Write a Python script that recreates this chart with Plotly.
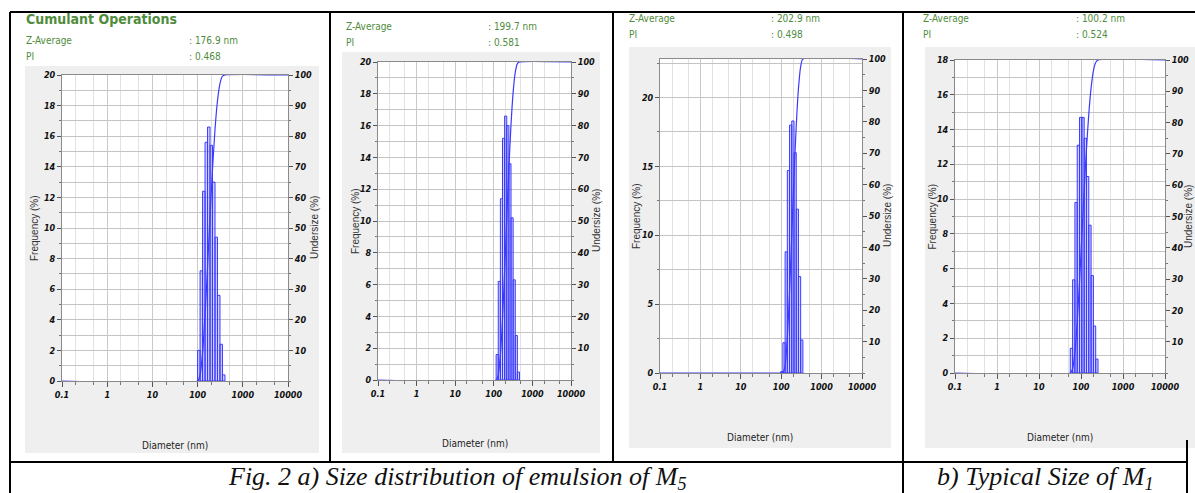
import plotly.graph_objects as go

W, H = 1195, 493

# ---------------- data ----------------
# bin edges (nm) and frequency (%) of each size class
m5a_edges = [100, 113.5, 128.8, 146.2, 165.9, 188.3, 213.7, 242.6, 275.3, 312.5, 354.7, 402.6]
m5a_freq = [2.0, 7.2, 12.4, 15.6, 16.6, 15.4, 13.0, 9.4, 5.6, 2.4, 0.4]

m5b_edges = [115, 130.5, 148.1, 168.1, 190.8, 216.6, 245.8, 279.0, 316.7, 359.4, 407.9, 463.0]
m5b_freq = [1.6, 6.2, 11.4, 15.2, 16.6, 16.0, 13.6, 10.2, 6.3, 2.8, 0.5]

m5c_edges = [97, 110.1, 125.0, 141.8, 161.0, 182.7, 207.4, 235.4, 267.2, 303.2, 344.2]
m5c_freq = [0.1, 2.2, 8.8, 14.7, 18.0, 18.3, 16.0, 11.9, 7.0, 2.4]

m1_edges = [55.6, 63.1, 71.6, 81.3, 92.3, 104.7, 118.9, 134.9, 153.1, 173.8, 197.3, 223.9, 254.1]
m1_freq = [1.42, 5.36, 9.81, 13.1, 14.7, 14.7, 13.5, 11.3, 8.5, 5.6, 2.7, 0.8]

z_average = ["176.9 nm", "199.7 nm", "202.9 nm", "100.2 nm"]
pdi = ["0.468", "0.581", "0.498", "0.524"]

x_tick_vals = [0.1, 1, 10, 100, 1000, 10000]
x_tick_text = ["0.1", "1", "10", "100", "1000", "10000"]
under_ticks = [10, 20, 30, 40, 50, 60, 70, 80, 90, 100]

freq_max = [20, 20, 22.8, 18]
freq_dtick = [2, 2, 5, 2]
freq_minor = [1, 1, 2.5, 1]

caption_a = "Fig. 2 a) Size distribution of emulsion of M<sub>5</sub>"
caption_b = "b) Typical Size of M<sub>1</sub>"

# ---------------- layout (pixels) ----------------
panels = [
    dict(edges=m5a_edges, freq=m5a_freq, x0=62, x1=288, y0=75, y1=381, bg=(25, 66, 319, 453),
         fx=34, ux=314, uanchor="center", dx=175, dy=445, tx=25, vx=188, ty=(40, 56)),
    dict(edges=m5b_edges, freq=m5b_freq, x0=378, x1=571, y0=62, y1=380, bg=(342, 52, 600, 453),
         fx=355, ux=596, uanchor="center", dx=475, dy=443, tx=345, vx=487, ty=(26, 43)),
    dict(edges=m5c_edges, freq=m5c_freq, x0=660, x1=862, y0=59, y1=373, bg=(629, 47, 891, 448),
         fx=636, ux=887, uanchor="center", dx=760, dy=437, tx=628, vx=770, ty=(18, 34)),
    dict(edges=m1_edges, freq=m1_freq, x0=955, x1=1165, y0=60, y1=373, bg=(925, 47, 1195, 448),
         fx=932, ux=1195, uanchor="right", dx=1060, dy=437, tx=922, vx=1075, ty=(18, 35)),
]

GREEN = "#4f8c3c"
NARROW = "DejaVu Sans Condensed, Liberation Sans Narrow, Arial Narrow, Liberation Sans, sans-serif"
BLUE = "#3a3aff"


def fx(x):
    return x / W


def fy(y):
    return 1 - y / H


def label(text, x, y, font, xanchor="center", angle=0):
    return dict(text=text, x=fx(x), y=fy(y), xref="paper", yref="paper", xanchor=xanchor, yanchor="middle",
                textangle=angle, showarrow=False, font=font, borderpad=0)


fig = go.Figure()
shapes = []
annotations = []
layout = {}

for i, p in enumerate(panels):
    n = i + 1
    xname = "x" if n == 1 else f"x{n}"
    yl = "y" if n == 1 else f"y{n}"
    yr = f"y{n + 4}"

    # histogram bars as closed polygons
    hx, hy = [], []
    for k, f in enumerate(p["freq"]):
        a, b = p["edges"][k], p["edges"][k + 1]
        hx += [a, a, b, b, a, None]
        hy += [0, f, f, 0, 0, None]
    fig.add_trace(go.Scatter(x=hx, y=hy, mode="lines", fill="toself",
                             fillcolor="rgba(90,90,255,0.27)",
                             line=dict(color=BLUE, width=1),
                             xaxis=xname, yaxis=yl, showlegend=False, hoverinfo="skip"))

    # cumulative undersize curve
    total = sum(p["freq"])
    cx = [0.1, p["edges"][0]]
    cy = [0, 0]
    run = 0
    for k, f in enumerate(p["freq"]):
        run += f
        cx.append(p["edges"][k + 1])
        cy.append(run / total * 100)
    cx.append(10000)
    cy.append(100)
    fig.add_trace(go.Scatter(x=cx, y=cy, mode="lines", line=dict(color=BLUE, width=1.2, shape="spline", smoothing=0.6),
                             xaxis=xname, yaxis=yr, showlegend=False, hoverinfo="skip"))

    xkey = "xaxis" if n == 1 else f"xaxis{n}"
    ylkey = "yaxis" if n == 1 else f"yaxis{n}"
    yrkey = f"yaxis{n + 4}"

    tfont = dict(family=NARROW, size=9, color="#111", style="italic", weight="bold")
    layout[xkey] = dict(
        type="log", range=[-1, 4], domain=[fx(p["x0"]), fx(p["x1"])], anchor=yl, automargin=False,
        tickvals=x_tick_vals, ticktext=x_tick_text, ticks="outside", ticklen=5, tickcolor="#555",
        tickfont=tfont,
        showgrid=True, gridcolor="#c9c9c9", gridwidth=1,
        minor=dict(showgrid=True, gridcolor="#e2e2e2", ticks="outside", ticklen=3, tickcolor="#777"),
        showline=True, linecolor="#8a8a8a", mirror=True, zeroline=False, fixedrange=True,
    )
    layout[ylkey] = dict(
        range=[0, freq_max[i]], domain=[fy(p["y1"]), fy(p["y0"])], anchor=xname, automargin=False,
        dtick=freq_dtick[i], tick0=0, ticks="outside", ticklen=4, tickcolor="#555",
        tickfont=tfont,
        showgrid=True, gridcolor="#c4c4c4", gridwidth=1,
        minor=dict(dtick=freq_minor[i], showgrid=True, gridcolor="#c4c4c4", ticks="outside", ticklen=2, tickcolor="#777"),
        showline=True, linecolor="#8a8a8a", zeroline=False, fixedrange=True,
    )
    layout[yrkey] = dict(
        range=[0, 100], overlaying=yl, anchor=xname, side="right", automargin=False,
        tickvals=under_ticks, ticks="outside", ticklen=4, tickcolor="#555",
        tickfont=tfont,
        showgrid=False, minor=dict(dtick=5, ticks="outside", ticklen=2, tickcolor="#777"),
        showline=True, linecolor="#8a8a8a", zeroline=False, fixedrange=True,
    )

    # grey instrument background and white plot area
    bx0, by0, bx1, by1 = p["bg"]
    shapes.append(dict(type="rect", xref="paper", yref="paper", x0=fx(bx0), x1=fx(bx1), y0=fy(by1), y1=fy(by0),
                       fillcolor="#efefef", line=dict(width=0), layer="below"))
    shapes.append(dict(type="rect", xref="paper", yref="paper", x0=fx(p["x0"]), x1=fx(p["x1"]),
                       y0=fy(p["y1"]), y1=fy(p["y0"]), fillcolor="white", line=dict(width=0), layer="below"))

    # axis titles
    mid = (p["y0"] + p["y1"]) / 2
    afont = dict(family="Liberation Sans, Arial", size=10, color="#333")
    annotations.append(label("Frequency (%)", p["fx"], mid, afont, angle=-90))
    annotations.append(label("Undersize (%)", p["ux"], mid, afont, xanchor=p["uanchor"], angle=-90))
    annotations.append(label("Diameter (nm)", p["dx"], p["dy"], dict(family=NARROW, size=10, color="#222")))

    # green cumulant text
    gfont = dict(family=NARROW, size=10, color=GREEN)
    annotations.append(label("Z-Average", p["tx"], p["ty"][0], gfont, xanchor="left"))
    annotations.append(label("PI", p["tx"], p["ty"][1], gfont, xanchor="left"))
    annotations.append(label(": " + z_average[i], p["vx"], p["ty"][0], gfont, xanchor="left"))
    annotations.append(label(": " + pdi[i], p["vx"], p["ty"][1], gfont, xanchor="left"))

annotations.append(label("Cumulant Operations", 25, 19,
                         dict(family=NARROW, size=14, color=GREEN, weight="bold"), xanchor="left"))

# captions
cap_font = dict(family="Liberation Serif, Times New Roman, serif", size=26, color="#111", style="italic")
annotations.append(label(caption_a, 457, 478, cap_font))
annotations.append(label(caption_b, 1045, 478, cap_font))


# table lines
def hline(y, xa, xb):
    return dict(type="line", xref="paper", yref="paper", x0=fx(xa), x1=fx(xb), y0=fy(y), y1=fy(y),
                line=dict(color="black", width=2), layer="above")


def vline(x, ya, yb):
    return dict(type="line", xref="paper", yref="paper", x0=fx(x), x1=fx(x), y0=fy(ya), y1=fy(yb),
                line=dict(color="black", width=2), layer="above")


shapes += [hline(12, 10, 1195), hline(462, 10, 1187),
           vline(10, 12, 493), vline(330, 12, 462), vline(613, 12, 462), vline(903, 12, 493), vline(1187, 440, 493)]

fig.update_layout(
    width=W, height=H, margin=dict(l=0, r=0, t=0, b=0, autoexpand=False),
    paper_bgcolor="white", plot_bgcolor="rgba(0,0,0,0)",
    showlegend=False, shapes=shapes, annotations=annotations, **layout,
)

fig.write_html("out.html", config={"displayModeBar": False},
               post_script="document.body.style.margin='0';document.body.style.overflow='hidden';")
